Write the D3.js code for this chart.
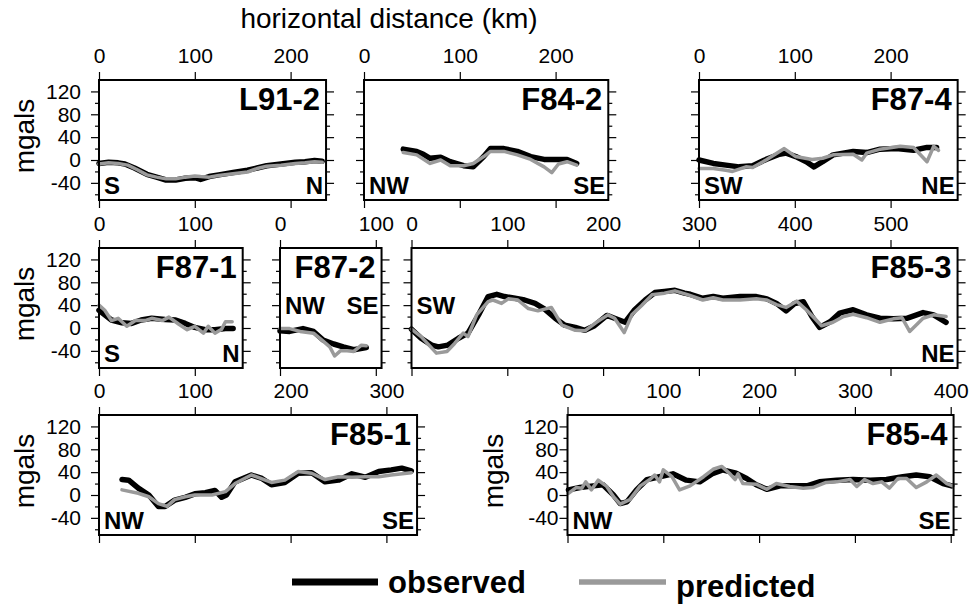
<!DOCTYPE html>
<html>
<head>
  <meta charset="utf-8">
  <title>observed vs predicted gravity profiles</title>
  <script src="https://cdn.jsdelivr.net/npm/d3@7"></script>
  <style>
    body { margin: 0; background: #fff; }
    svg text { font-family: "Liberation Sans", Arial, Helvetica, sans-serif; }
  </style>
</head>
<body>
<svg width="972" height="606"></svg>

<script>
  // profile data: [distance km, mgal]
  var L91_2_obs = [[0,-6],[10,-4],[20,-5],[27,-7],[37,-14],[50,-25],[60,-30],[70,-35],[80,-35],[90,-32],[100,-31],[106,-34],[115,-29],[125,-26],[140,-22],[155,-18],[165,-14],[175,-10],[190,-7],[205,-4],[215,-3],[225,-1],[233,-2]];
  var L91_2_pred = [[0,-7],[10,-5],[20,-6],[30,-9],[40,-17],[50,-26],[60,-30],[70,-33],[80,-33],[90,-30],[100,-28],[106,-29],[115,-30],[125,-27],[140,-24],[155,-21],[165,-15],[175,-11],[190,-9],[205,-6],[215,-5],[225,-3],[233,-4]];

  var F84_2_obs = [[41,19],[55,15],[62,10],[69,3],[80,5],[90,-3],[104,-10],[114,-12],[125,6],[132,20],[146,20],[160,15],[174,6],[188,1],[198,1],[212,1],[222,-6]];
  var F84_2_pred = [[41,13],[55,9],[69,-6],[80,0],[90,-10],[104,-10],[114,-6],[125,6],[132,15],[146,15],[160,9],[174,1],[188,-12],[196,-22],[203,-7],[212,-3],[222,-9]];

  var F87_4_obs = [[0,0],[15,-6],[28,-9],[42,-12],[56,-10],[70,1],[84,10],[91,12],[101,6],[112,-3],[120,-12],[129,-3],[140,9],[161,15],[175,13],[189,19],[206,20],[224,17],[238,22],[248,22]];
  var F87_4_pred = [[0,-15],[15,-15],[28,-18],[35,-20],[49,-12],[56,-13],[70,0],[89,20],[101,6],[118,1],[129,3],[140,9],[161,10],[170,0],[175,12],[189,19],[210,24],[224,22],[238,-3],[245,24],[250,17]];

  var F87_1_obs = [[0,31],[6,23],[13,14],[24,9],[34,8],[44,14],[55,17],[69,15],[80,14],[90,8],[100,1],[111,-3],[121,-3],[132,-1],[140,-1]];
  var F87_1_pred = [[0,40],[6,31],[13,13],[20,17],[29,3],[38,13],[48,13],[55,17],[66,13],[73,19],[83,7],[92,-3],[100,3],[109,-9],[114,3],[121,-9],[128,-2],[132,11],[139,11]];

  var F87_2_obs = [[0,-5],[10,-6],[24,-1],[35,-6],[45,-21],[56,-28],[66,-33],[77,-38],[90,-34]];
  var F87_2_pred = [[0,-1],[10,-1],[21,-6],[35,-9],[45,-23],[52,-33],[57,-49],[63,-40],[70,-40],[77,-41],[85,-30],[90,-31]];

  var F85_3_obs = [[0,-2],[10,-18],[21,-30],[28,-33],[38,-30],[49,-18],[59,-9],[70,23],[80,55],[89,59],[97,55],[108,52],[118,49],[129,43],[139,33],[150,17],[160,5],[171,1],[181,-4],[191,4],[204,22],[212,17],[223,10],[233,32],[244,49],[254,62],[264,64],[275,66],[285,61],[291,59],[304,52],[315,55],[325,52],[343,55],[360,55],[371,51],[381,43],[391,30],[400,43],[409,46],[418,20],[426,1],[437,11],[447,26],[461,32],[475,23],[489,17],[503,16],[517,17],[534,27],[545,23],[558,10]];
  var F85_3_pred = [[0,-2],[10,-15],[26,-44],[37,-41],[45,-27],[54,-9],[59,-15],[68,23],[80,46],[85,49],[94,43],[101,51],[111,49],[122,34],[132,30],[146,36],[157,5],[171,-4],[181,-5],[193,10],[205,23],[212,17],[222,-8],[230,23],[240,39],[251,58],[264,61],[275,65],[289,58],[304,49],[315,53],[325,49],[343,49],[360,51],[371,49],[381,41],[391,36],[402,47],[412,32],[419,20],[428,4],[440,10],[451,20],[461,24],[475,18],[489,10],[503,16],[512,18],[520,-6],[534,17],[545,23],[558,20]];

  var F85_1_obs = [[24,27],[31,26],[41,12],[52,0],[62,-20],[69,-20],[79,-9],[90,-4],[100,2],[111,4],[121,8],[128,-4],[133,0],[142,23],[159,35],[170,29],[180,18],[194,22],[208,38],[222,39],[236,23],[250,26],[264,37],[278,31],[292,41],[305,44],[316,47],[326,42]];
  var F85_1_pred = [[24,9],[41,3],[52,-3],[62,-15],[71,-20],[79,-8],[90,-3],[100,0],[118,0],[132,6],[142,20],[159,35],[180,22],[194,26],[208,41],[222,38],[236,27],[250,32],[264,31],[278,32],[292,32],[305,35],[326,39]];

  var F85_4_obs = [[1,9],[13,13],[27,16],[37,18],[48,0],[55,-15],[62,-12],[72,9],[83,27],[96,32],[110,37],[124,26],[138,23],[152,38],[162,44],[176,38],[187,29],[197,18],[208,10],[222,16],[236,16],[250,16],[263,23],[281,26],[298,27],[316,26],[333,27],[350,32],[364,35],[378,32],[392,20],[401,16]];
  var F85_4_pred = [[1,3],[9,13],[15,12],[19,23],[25,9],[32,26],[41,15],[48,-3],[55,-16],[65,-8],[76,16],[86,27],[91,35],[96,23],[100,44],[109,32],[117,9],[128,16],[142,32],[152,45],[161,50],[169,38],[175,27],[178,37],[183,20],[197,19],[208,10],[218,20],[232,15],[246,12],[256,13],[270,22],[281,23],[295,27],[302,15],[310,27],[319,20],[328,23],[336,12],[345,29],[354,29],[364,13],[375,23],[385,35],[396,20],[402,16]];

  var yTicks = [-40, 0, 40, 80, 120];
  var yMinor = [-60, -20, 20, 60, 100];
  var legendLabels = ["observed", "predicted"];

  var svg = d3.select("svg");
  var kmPx = 0.958, frameH = 120;
  var rowTop = [80, 248, 415];
  var obsColor = "#000", predColor = "#9a9a9a";

  var panels = [
    {name: "L91-2", obs: L91_2_obs, pred: L91_2_pred, row: 0, left: 99, km: 237, xt: [0,100,200], ylab: true, lpad: 10, dirs: ["S","N"], dirUp: [false,false]},
    {name: "F84-2", obs: F84_2_obs, pred: F84_2_pred, row: 0, left: 364, km: 255, xt: [0,100,200], ylab: false, dirs: ["NW","SE"], dirUp: [false,false]},
    {name: "F87-4", obs: F87_4_obs, pred: F87_4_pred, row: 0, left: 699, km: 270, xt: [0,100,200], ylab: false, dirs: ["SW","NE"], dirUp: [false,false]},
    {name: "F87-1", obs: F87_1_obs, pred: F87_1_pred, row: 1, left: 99, km: 150, xt: [0,100], ylab: true, lpad: 10, dirs: ["S","N"], dirUp: [false,false]},
    {name: "F87-2", obs: F87_2_obs, pred: F87_2_pred, row: 1, left: 280, km: 106, xt: [0,100], ylab: false, dirs: ["NW","SE"], dirUp: [true,true]},
    {name: "F85-3", obs: F85_3_obs, pred: F85_3_pred, row: 1, left: 411.5, km: 570, xt: [0,100,200,300,400,500], ylab: false, dirs: ["SW","NE"], dirUp: [true,false]},
    {name: "F85-1", obs: F85_1_obs, pred: F85_1_pred, row: 2, left: 99, km: 332, xt: [0,100,200,300], ylab: true, lpad: 10, dirs: ["NW","SE"], dirUp: [false,false]},
    {name: "F85-4", obs: F85_4_obs, pred: F85_4_pred, row: 2, left: 567.5, km: 403, xt: [0,100,200,300,400], ylab: true, lpad: 1, dirs: ["NW","SE"], dirUp: [false,false]}
  ];

  function fmt(d) { return String(d); }

  function styleAxis(sel) {
    sel.attr("font-size", 21).attr("font-family", null);
    sel.select(".domain").remove();
    sel.selectAll(".tick line").attr("stroke-width", 1.2);
    sel.selectAll(".tick text").attr("fill", "#000");
  }

  panels.forEach(function(p) {
    var top = rowTop[p.row];
    var right = p.left + p.km * kmPx;
    var x = d3.scaleLinear().domain([0, p.km]).range([p.left, right]);
    var y = d3.scaleLinear().domain([-70, 140]).range([top + frameH, top]);
    var g = svg.append("g");

    // x ticks top (labelled) and bottom
    g.append("g").attr("transform", "translate(0," + top + ")")
      .call(d3.axisTop(x).tickValues(p.xt).tickSize(8).tickPadding(9).tickFormat(fmt))
      .call(styleAxis);
    g.append("g").attr("transform", "translate(0," + (top + frameH) + ")")
      .call(d3.axisBottom(x).tickValues(p.xt).tickSize(8).tickFormat(""))
      .call(styleAxis);

    // y ticks both sides
    g.append("g").attr("transform", "translate(" + p.left + ",0)")
      .call(d3.axisLeft(y).tickValues(yTicks).tickSize(8).tickPadding(p.lpad || 3).tickFormat(p.ylab ? fmt : ""))
      .call(styleAxis);
    g.append("g").attr("transform", "translate(" + p.left + ",0)")
      .call(d3.axisLeft(y).tickValues(yMinor).tickSize(4).tickFormat(""))
      .call(styleAxis);
    g.append("g").attr("transform", "translate(" + right + ",0)")
      .call(d3.axisRight(y).tickValues(yTicks).tickSize(8).tickFormat(""))
      .call(styleAxis);
    g.append("g").attr("transform", "translate(" + right + ",0)")
      .call(d3.axisRight(y).tickValues(yMinor).tickSize(4).tickFormat(""))
      .call(styleAxis);

    if (p.ylab) {
      g.append("text")
        .attr("transform", "translate(" + (p.left - 65) + "," + (top + 56) + ") rotate(-90)")
        .attr("text-anchor", "middle")
        .attr("font-size", 28)
        .text("mgals");
    }

    var line = d3.line().x(function(d) { return x(d[0]); }).y(function(d) { return y(d[1]); });

    g.append("path").datum(p.obs)
      .attr("d", line)
      .attr("fill", "none")
      .attr("stroke", obsColor)
      .attr("stroke-width", 5.5)
      .attr("stroke-linejoin", "round")
      .attr("stroke-linecap", "round");
    g.append("path").datum(p.pred)
      .attr("d", line)
      .attr("fill", "none")
      .attr("stroke", predColor)
      .attr("stroke-width", 3.5)
      .attr("stroke-linejoin", "round")
      .attr("stroke-linecap", "round");

    // frame
    g.append("rect")
      .attr("x", p.left).attr("y", top)
      .attr("width", right - p.left).attr("height", frameH)
      .attr("fill", "none").attr("stroke", "#000").attr("stroke-width", 2);

    // title
    g.append("text")
      .attr("x", right - 6).attr("y", top + 30)
      .attr("text-anchor", "end")
      .attr("font-size", 31).attr("font-weight", "bold")
      .text(p.name);

    // direction labels
    g.append("text")
      .attr("x", p.left + 5).attr("y", p.dirUp[0] ? top + 66 : top + 114)
      .attr("font-size", 24).attr("font-weight", "bold")
      .text(p.dirs[0]);
    g.append("text")
      .attr("x", right - 3).attr("y", p.dirUp[1] ? top + 66 : top + 114)
      .attr("text-anchor", "end")
      .attr("font-size", 24).attr("font-weight", "bold")
      .text(p.dirs[1]);
  });

  // top title
  svg.append("text")
    .attr("x", 389).attr("y", 28)
    .attr("text-anchor", "middle")
    .attr("font-size", 28)
    .text("horizontal distance (km)");

  // legend
  var legend = svg.append("g");
  legend.append("line")
    .attr("x1", 292).attr("x2", 378).attr("y1", 582).attr("y2", 582)
    .attr("stroke", obsColor).attr("stroke-width", 7);
  legend.append("text")
    .attr("x", 388).attr("y", 593)
    .attr("font-size", 31).attr("font-weight", "bold")
    .text(legendLabels[0]);
  legend.append("line")
    .attr("x1", 579).attr("x2", 666).attr("y1", 582).attr("y2", 582)
    .attr("stroke", predColor).attr("stroke-width", 5.5);
  legend.append("text")
    .attr("x", 676).attr("y", 597)
    .attr("font-size", 31).attr("font-weight", "bold")
    .text(legendLabels[1]);
</script>
</body>
</html>
